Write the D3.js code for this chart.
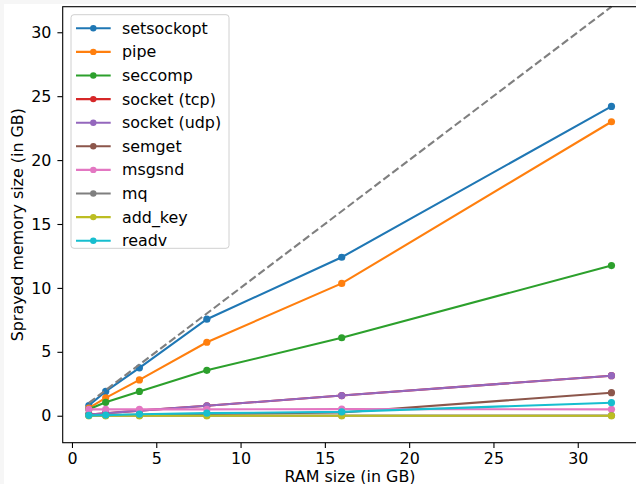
<!DOCTYPE html>
<meta charset="utf-8">
<head>
	<title>Sprayed memory size</title>
</head>

<style>

body{
	margin: 0;
	background-color: #f6f6f6;
}

svg{
	display: block;
	font-family: "DejaVu Sans", sans-serif;
}

.line{
	fill: none;
	stroke-width: 2.1;
}

</style>

<body>

<svg class="chart" width="636" height="484"></svg>

<script src="https://cdnjs.cloudflare.com/ajax/libs/d3/7.8.5/d3.min.js"></script>
<script>

// data
var ram = [1, 2, 4, 8, 16, 32];

var names = ['setsockopt', 'pipe', 'seccomp', 'socket (tcp)', 'socket (udp)',
	'semget', 'msgsnd', 'mq', 'add_key', 'readv'];

var setsockopt = [0.8, 1.9, 3.75, 7.55, 12.4, 24.2];
var pipe       = [0.6, 1.4, 2.8, 5.75, 10.35, 23.0];
var seccomp    = [0.5, 1.05, 1.9, 3.55, 6.1, 11.75];
var socketTcp  = [0.1, 0.2, 0.4, 0.78, 1.58, 3.13];
var socketUdp  = [0.1, 0.2, 0.4, 0.78, 1.58, 3.13];
var semget     = [0.05, 0.06, 0.08, 0.13, 0.25, 1.8];
var msgsnd     = [0.5, 0.5, 0.5, 0.5, 0.52, 0.5];
var mq         = [0.01, 0.01, 0.01, 0.01, 0.01, 0.01];
var addKey     = [0, 0, 0, 0, 0, 0];
var readv      = [0.03, 0.05, 0.12, 0.2, 0.3, 1.02];

var seriesValues = [setsockopt, pipe, seccomp, socketTcp, socketUdp,
	semget, msgsnd, mq, addKey, readv];

var colors = ['#1f77b4', '#ff7f0e', '#2ca02c', '#d62728', '#9467bd',
	'#8c564b', '#e377c2', '#7f7f7f', '#bcbd22', '#17becf'];

var xTicks = [0, 5, 10, 15, 20, 25, 30];
var yTicks = [0, 5, 10, 15, 20, 25, 30];

var fontSize = 15.9;

// layout
var svg = d3.select('.chart');

svg.append('rect')
	.attr('x', 4)
	.attr('y', 4)
	.attr('width', 632)
	.attr('height', 480)
	.attr('fill', '#fff');

var pLeft = 62.7, pTop = 6.7, pRight = 637.6, pBottom = 442.7;

var x = d3.scaleLinear().domain([-0.55, 33.55]).range([pLeft, pRight]);
var y = d3.scaleLinear().domain([-2.11, 32]).range([pBottom, pTop]);

var plot = svg.append('g');

// lines and points
var lineGenerator = d3.line()
	.x(function(d){ return x(d[0]); })
	.y(function(d){ return y(d[1]); });

seriesValues.forEach(function(vals, i){
	var pts = ram.map(function(r, j){ return [r, vals[j]]; });
	var g = plot.append('g');
	g.append('path')
		.attr('class', 'line')
		.attr('stroke', colors[i])
		.attr('d', lineGenerator(pts));
	g.selectAll('circle')
		.data(pts)
		.enter()
		.append('circle')
		.attr('cx', function(d){ return x(d[0]); })
		.attr('cy', function(d){ return y(d[1]); })
		.attr('r', 3.6)
		.attr('fill', colors[i]);
});

// y = x reference line
plot.append('path')
	.attr('class', 'line')
	.attr('stroke', '#7f7f7f')
	.attr('stroke-dasharray', '7.8,3.4')
	.attr('d', lineGenerator([[1, 1], [32, 32]]));

// axes
var xAxis = d3.axisBottom(x).tickValues(xTicks).tickSize(5.3).tickPadding(5);
var yAxis = d3.axisLeft(y).tickValues(yTicks).tickSize(5.3).tickPadding(6);

var gx = svg.append('g')
	.attr('transform', 'translate(0,' + pBottom + ')')
	.call(xAxis);
var gy = svg.append('g')
	.attr('transform', 'translate(' + pLeft + ',0)')
	.call(yAxis);

[gx, gy].forEach(function(g){
	g.select('.domain').remove();
	g.selectAll('line').attr('stroke', '#000').attr('stroke-width', 1.1);
	g.selectAll('text')
		.attr('font-family', '"DejaVu Sans", sans-serif')
		.attr('font-size', fontSize)
		.attr('fill', '#000');
});

// spines
svg.append('rect')
	.attr('x', pLeft)
	.attr('y', pTop)
	.attr('width', pRight - pLeft)
	.attr('height', pBottom - pTop)
	.attr('fill', 'none')
	.attr('stroke', '#000')
	.attr('stroke-width', 1.1);

// axis labels
svg.append('text')
	.attr('x', 350)
	.attr('y', 481.5)
	.attr('text-anchor', 'middle')
	.attr('font-size', fontSize)
	.text('RAM size (in GB)');

svg.append('text')
	.attr('transform', 'translate(22.5,' + ((pTop + pBottom) / 2) + ') rotate(-90)')
	.attr('text-anchor', 'middle')
	.attr('font-size', fontSize)
	.text('Sprayed memory size (in GB)');

// legend
var legend = svg.append('g');

legend.append('rect')
	.attr('x', 71)
	.attr('y', 14.7)
	.attr('width', 158)
	.attr('height', 233.6)
	.attr('rx', 3)
	.attr('fill', '#fff')
	.attr('fill-opacity', 0.8)
	.attr('stroke', '#d0d0d0')
	.attr('stroke-width', 1);

var item = legend.selectAll('.item')
	.data(names)
	.enter()
	.append('g')
	.attr('class', 'item')
	.attr('transform', function(d, i){ return 'translate(0,' + (28.3 + i * 23.6) + ')'; });

item.append('line')
	.attr('x1', 76)
	.attr('x2', 110.7)
	.attr('stroke', function(d, i){ return colors[i]; })
	.attr('stroke-width', 2.1);

item.append('circle')
	.attr('cx', 93.3)
	.attr('r', 3.2)
	.attr('fill', function(d, i){ return colors[i]; });

item.append('text')
	.attr('x', 122)
	.attr('dy', '0.35em')
	.attr('font-size', fontSize)
	.text(function(d){ return d; });

</script>

</body>
</html>
